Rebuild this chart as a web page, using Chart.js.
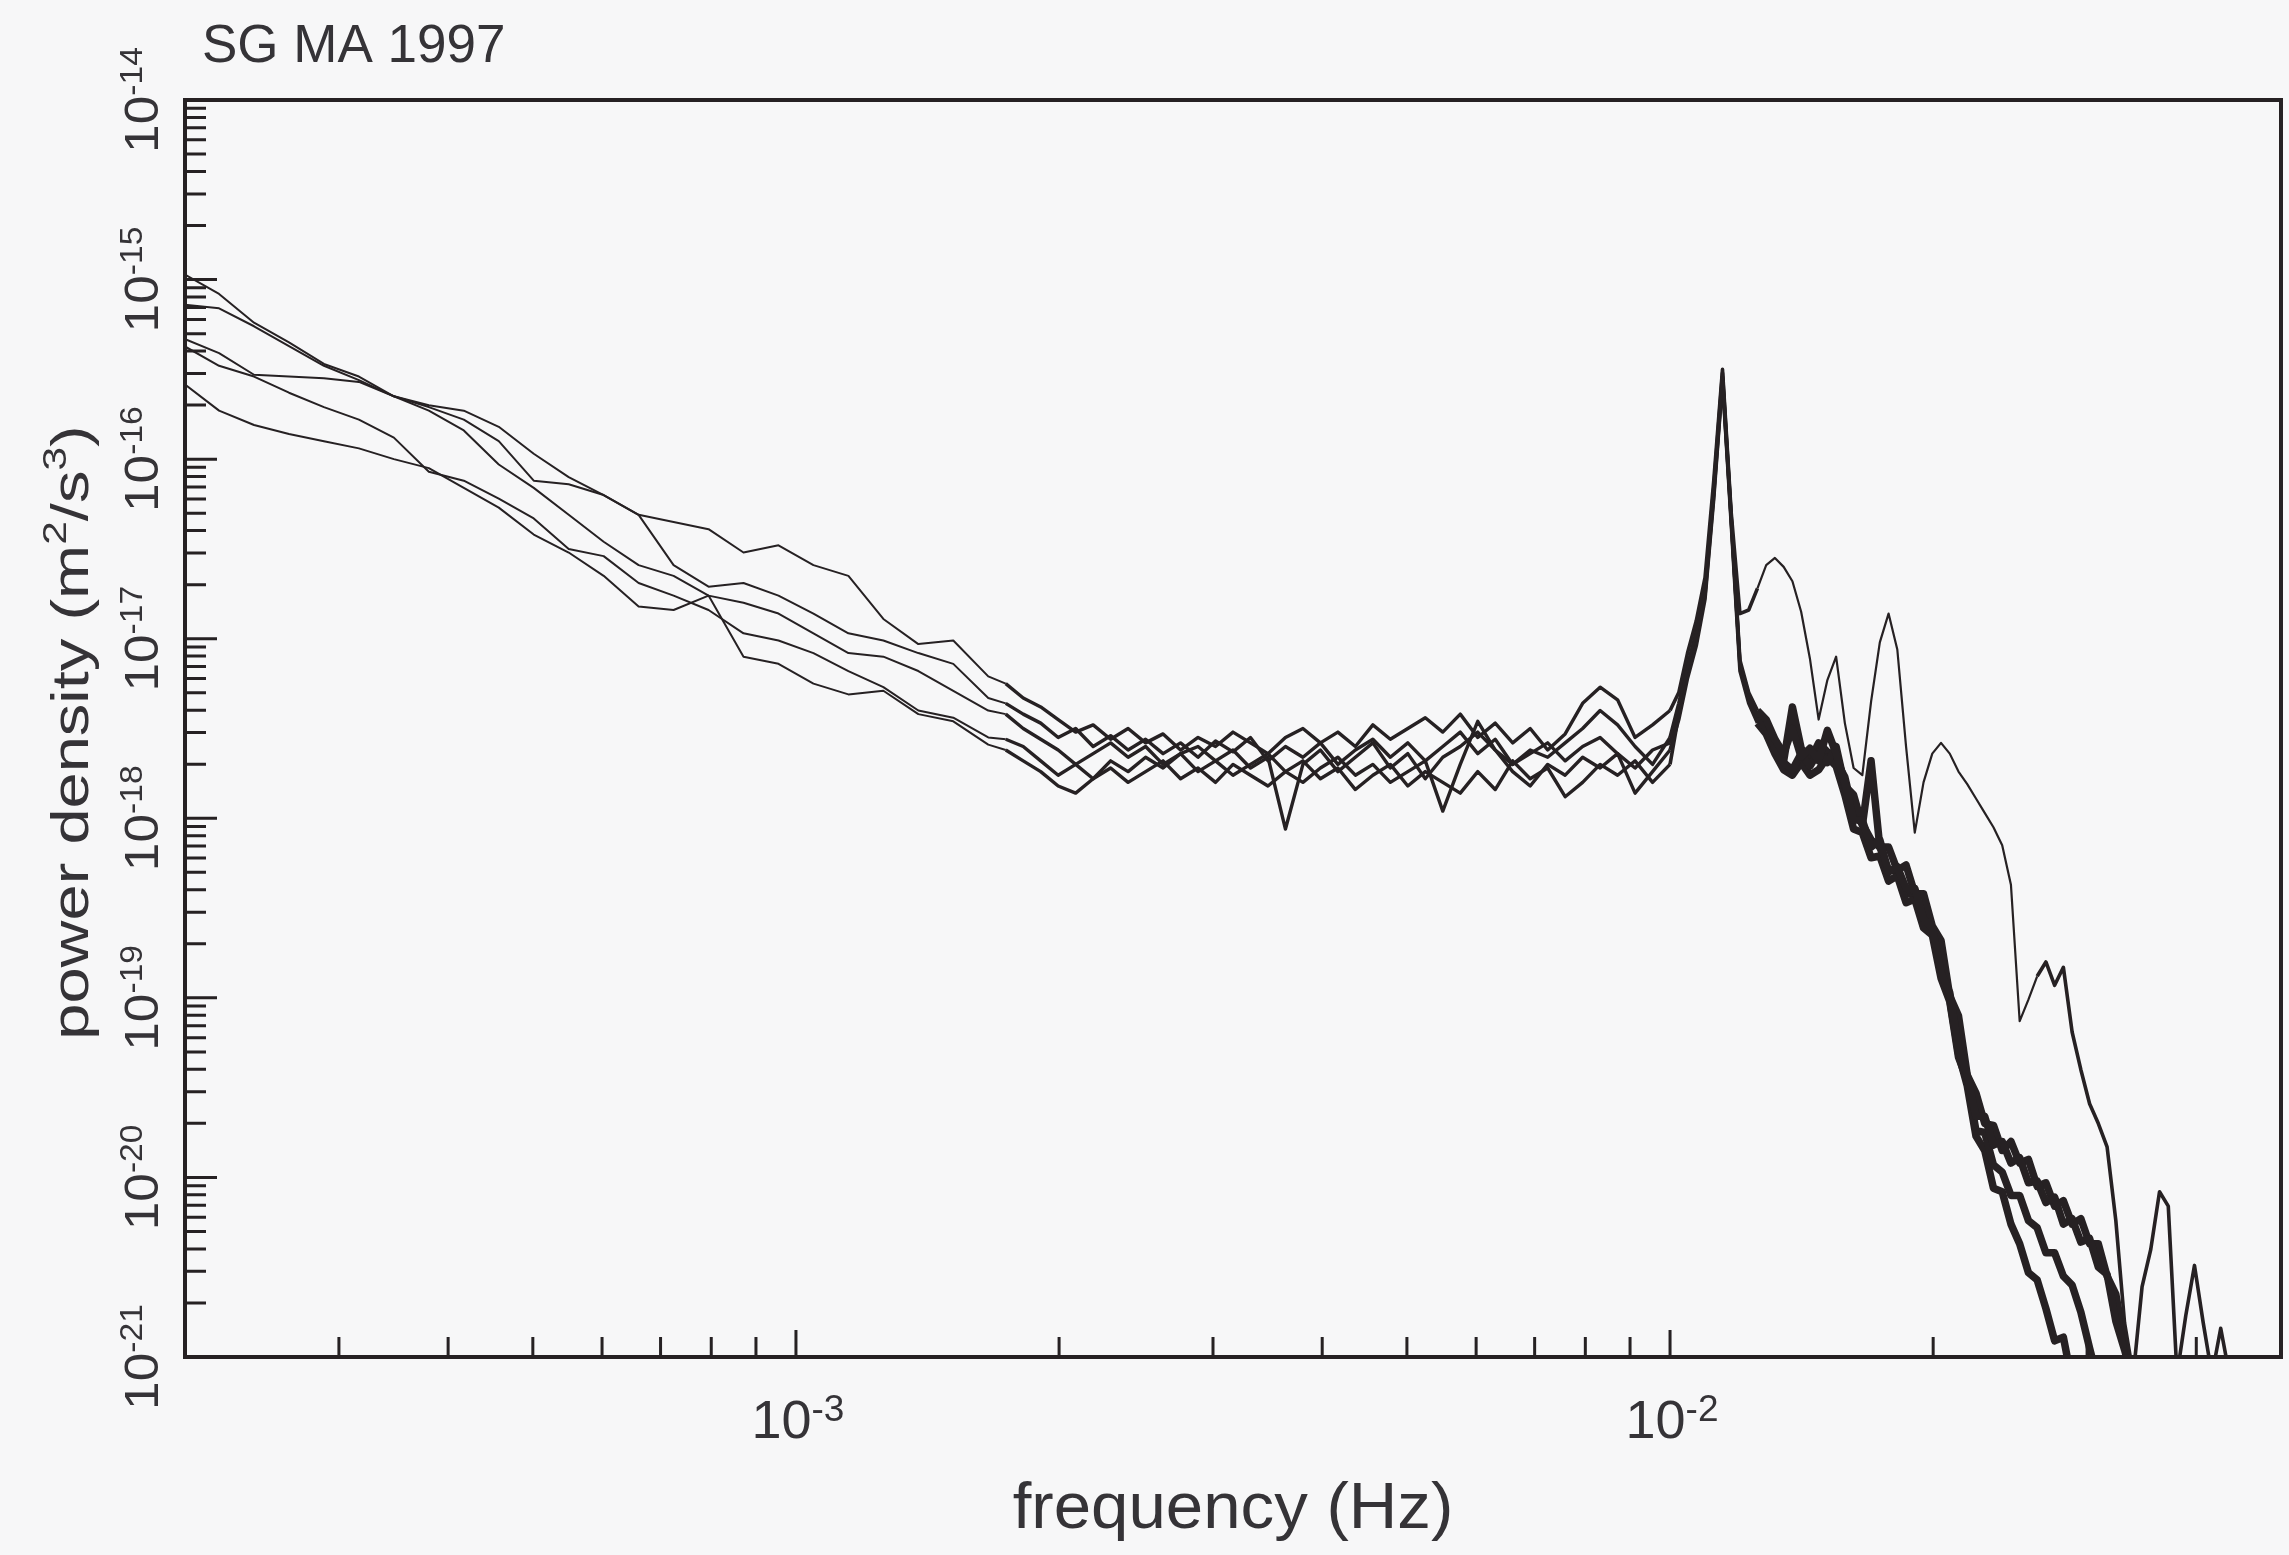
<!DOCTYPE html>
<html>
<head>
<meta charset="utf-8">
<title>SG MA 1997</title>
<script src="https://cdn.jsdelivr.net/npm/chart.js@4.4.0/dist/chart.umd.min.js"></script>
<style>
  html, body { margin: 0; padding: 0; background: #f7f7f8; }
</style>
</head>
<body>
<canvas id="psd" width="2289" height="1555"></canvas>
<script>
// frequency grid, log10(Hz)
const logFreq = [
  -3.70, -3.66, -3.62, -3.58, -3.54, -3.50, -3.46, -3.42, -3.38, -3.34, -3.30, -3.26,
  -3.22, -3.18, -3.14, -3.10, -3.06, -3.02, -2.98, -2.94, -2.90, -2.86, -2.82, -2.78,
  -2.76, -2.74, -2.72, -2.70, -2.68, -2.66, -2.64, -2.62, -2.60, -2.58, -2.56, -2.54, -2.52,
  -2.50, -2.48, -2.46, -2.44, -2.42, -2.40, -2.38, -2.36, -2.34, -2.32, -2.30, -2.28, -2.26,
  -2.24, -2.22, -2.20, -2.18, -2.16, -2.14, -2.12, -2.10, -2.08, -2.06, -2.04, -2.02, -2.00,
  -1.99, -1.98, -1.97, -1.96, -1.95, -1.94, -1.93, -1.92, -1.91, -1.90,
  -1.89, -1.88, -1.87, -1.86, -1.85, -1.84, -1.83, -1.82, -1.81, -1.80,
  -1.79, -1.78, -1.77, -1.76, -1.75, -1.74, -1.73, -1.72, -1.71, -1.70,
  -1.69, -1.68, -1.67, -1.66, -1.65, -1.64, -1.63, -1.62, -1.61, -1.60,
  -1.59, -1.58, -1.57, -1.56, -1.55, -1.54, -1.53, -1.52, -1.51, -1.50,
  -1.49, -1.48, -1.47, -1.46, -1.45, -1.44, -1.43, -1.42, -1.41, -1.40,
  -1.39, -1.38, -1.37, -1.36, -1.35, -1.34, -1.33, -1.32, -1.31, -1.30,
]

// power density, log10(m2/s3), one array per record
const logPowerS1 = [
  -14.97, -15.08, -15.24, -15.35, -15.47, -15.54, -15.65, -15.70, -15.73, -15.82, -15.97, -16.10,
  -16.20, -16.31, -16.35, -16.39, -16.52, -16.48, -16.59, -16.65, -16.89, -17.03, -17.01, -17.21,
  -17.25, -17.33, -17.38, -17.45, -17.52, -17.48, -17.56, -17.50, -17.58, -17.53, -17.62, -17.55, -17.60,
  -17.52, -17.58, -17.64, -17.55, -17.50, -17.58, -17.52, -17.60, -17.48, -17.56, -17.50, -17.44, -17.52,
  -17.42, -17.55, -17.47, -17.58, -17.50, -17.62, -17.53, -17.36, -17.27, -17.34, -17.55, -17.48, -17.40,
  -17.30, -17.08, -16.90, -16.66, -16.12, -15.50, -16.30, -16.86, -16.84, -16.72,
  -16.59, -16.55, -16.60, -16.68, -16.85, -17.11, -17.45, -17.23, -17.10, -17.47,
  -17.72, -17.76, -17.35, -17.02, -16.86, -17.06, -17.60, -18.08, -17.80, -17.64,
  -17.58, -17.64, -17.74, -17.81, -17.89, -17.97, -18.05, -18.15, -18.37, -19.13,
  -19.01, -18.88, -18.80, -18.93, -18.83, -19.19, -19.40, -19.59, -19.70, -19.83,
  -20.24, -20.81, -21.10, -20.61, -20.40, -20.08, -20.16, -21.10, -20.77, -20.49,
  -20.81, -21.10, -20.84, -21.10, -21.02, -21.10,
]
const logPowerS2 = [
  -15.14, -15.16, -15.26, -15.37, -15.48, -15.56, -15.65, -15.71, -15.78, -15.90, -16.12, -16.14,
  -16.20, -16.31, -16.59, -16.71, -16.69, -16.76, -16.86, -16.97, -17.01, -17.08, -17.14, -17.33,
  -17.36, -17.42, -17.47, -17.55, -17.50, -17.60, -17.54, -17.62, -17.56, -17.64, -17.58, -17.66, -17.57,
  -17.63, -17.55, -17.68, -17.60, -17.66, -17.58, -17.70, -17.62, -17.56, -17.66, -17.58, -17.68, -17.60,
  -17.52, -17.64, -17.56, -17.70, -17.62, -17.66, -17.58, -17.50, -17.40, -17.48, -17.60, -17.70, -17.55,
  -17.36, -17.15, -16.96, -16.72, -16.16, -15.52, -16.32, -17.12, -17.30, -17.40,
  -17.45, -17.56, -17.64, -17.50, -17.66, -17.61, -17.68, -17.51, -17.64, -17.80,
  -18.01, -18.01, -18.16, -18.12, -18.30, -18.27, -18.39, -18.39, -18.56, -18.61,
  -18.86, -18.97, -19.28, -19.43, -19.66, -19.66, -19.82, -19.80, -19.92, -19.89,
  -20.03, -20.02, -20.14, -20.11, -20.26, -20.23, -20.36, -20.34, -20.50, -20.54,
  -20.80, -20.96, -21.14,
]
const logPowerS3 = [
  -15.33, -15.41, -15.53, -15.54, -15.55, -15.57, -15.65, -15.73, -15.84, -16.03, -16.16, -16.31,
  -16.46, -16.59, -16.65, -16.76, -16.80, -16.86, -16.97, -17.08, -17.10, -17.18, -17.29, -17.40,
  -17.42, -17.50, -17.56, -17.62, -17.70, -17.64, -17.58, -17.66, -17.60, -17.70, -17.64, -17.60, -17.68,
  -17.62, -17.72, -17.66, -18.06, -17.70, -17.62, -17.74, -17.66, -17.58, -17.72, -17.64, -17.78, -17.66,
  -17.60, -17.52, -17.62, -17.70, -17.64, -17.58, -17.68, -17.60, -17.55, -17.64, -17.72, -17.62, -17.58,
  -17.40, -17.20, -17.00, -16.76, -16.20, -15.55, -16.34, -17.15, -17.33, -17.44,
  -17.50, -17.61, -17.69, -17.73, -17.64, -17.71, -17.63, -17.69, -17.60, -17.82,
  -17.87, -18.04, -17.68, -18.16, -18.16, -18.29, -18.26, -18.42, -18.42, -18.60,
  -18.68, -18.99, -19.10, -19.43, -19.53, -19.70, -19.71, -19.85, -19.80, -19.92,
  -19.90, -20.05, -20.03, -20.16, -20.13, -20.26, -20.23, -20.37, -20.37, -20.55,
  -20.65, -20.93, -21.14,
]
const logPowerS4 = [
  -15.37, -15.48, -15.54, -15.63, -15.71, -15.78, -15.88, -16.07, -16.12, -16.22, -16.33, -16.50,
  -16.54, -16.69, -16.76, -16.84, -16.97, -17.01, -17.08, -17.18, -17.27, -17.40, -17.44, -17.55,
  -17.56, -17.60, -17.68, -17.76, -17.70, -17.78, -17.68, -17.74, -17.66, -17.72, -17.64, -17.74, -17.68,
  -17.76, -17.70, -17.64, -17.74, -17.80, -17.72, -17.66, -17.76, -17.70, -17.80, -17.74, -17.68, -17.96,
  -17.70, -17.46, -17.62, -17.74, -17.82, -17.70, -17.76, -17.66, -17.72, -17.64, -17.86, -17.74, -17.62,
  -17.45, -17.22, -17.04, -16.78, -16.22, -15.56, -16.36, -17.18, -17.36, -17.47,
  -17.53, -17.64, -17.73, -17.76, -17.69, -17.76, -17.73, -17.66, -17.71, -17.87,
  -18.06, -18.08, -18.22, -18.21, -18.35, -18.32, -18.47, -18.45, -18.61, -18.65,
  -18.89, -19.02, -19.33, -19.46, -19.74, -19.75, -19.93, -19.97, -20.10, -20.10,
  -20.24, -20.28, -20.42, -20.42, -20.55, -20.60, -20.75, -20.95, -21.14,
]
const logPowerS5 = [
  -15.58, -15.73, -15.81, -15.86, -15.90, -15.94, -16.00, -16.05, -16.16, -16.27, -16.42, -16.52,
  -16.65, -16.82, -16.84, -16.76, -17.10, -17.14, -17.25, -17.31, -17.29, -17.42, -17.46, -17.59,
  -17.62, -17.68, -17.74, -17.82, -17.86, -17.78, -17.72, -17.80, -17.74, -17.68, -17.78, -17.72, -17.80,
  -17.70, -17.76, -17.82, -17.74, -17.68, -17.78, -17.72, -17.84, -17.76, -17.70, -17.82, -17.74, -17.80,
  -17.86, -17.74, -17.84, -17.68, -17.78, -17.72, -17.88, -17.80, -17.70, -17.76, -17.68, -17.80, -17.70,
  -17.42, -17.18, -16.98, -16.74, -16.18, -15.54, -16.33, -17.14, -17.31, -17.42,
  -17.48, -17.58, -17.68, -17.38, -17.61, -17.68, -17.58, -17.63, -17.68, -17.77,
  -17.98, -18.03, -18.12, -18.16, -18.29, -18.29, -18.42, -18.42, -18.60, -18.61,
  -18.87, -19.01, -19.31, -19.49, -19.77, -19.85, -20.06, -20.08, -20.26, -20.37,
  -20.53, -20.57, -20.73, -20.91, -20.89, -21.14,
]

// axis ticks
const yDecades = [-21, -20, -19, -18, -17, -16, -15, -14]
const yMinor = [2, 3, 4, 5, 6, 7, 8, 9]
const xMajor = [-3, -2]
const xMinor = [3e-4, 4e-4, 5e-4, 6e-4, 7e-4, 8e-4, 9e-4,
  2e-3, 3e-3, 4e-3, 5e-3, 6e-3, 7e-3, 8e-3, 9e-3, 2e-2, 3e-2, 4e-2]

const ink = '#262123'
const textInk = '#353337'
const FONT = '"Liberation Sans", Arial, sans-serif'

// draw a run of text pieces ([text, size, rise]) centred on x,y
function drawParts(c, parts, x, y, angle, stretch) {
  c.save()
  c.translate(x, y)
  c.rotate(angle)
  c.scale(stretch, 1)
  let total = 0
  parts.forEach(p => {
    c.font = p[1] + 'px ' + FONT
    total += c.measureText(p[0]).width
  })
  let cx = -total / 2
  parts.forEach(p => {
    c.font = p[1] + 'px ' + FONT
    c.fillText(p[0], cx, -p[2])
    cx += c.measureText(p[0]).width
  })
  c.restore()
}

const frame = {
  id: 'frame',
  afterDraw(chart) {
    const c = chart.ctx
    const a = chart.chartArea
    const xs = chart.scales.x
    const ys = chart.scales.y
    c.save()
    c.strokeStyle = ink
    c.lineWidth = 4
    c.strokeRect(a.left, a.top, a.right - a.left, a.bottom - a.top)

    // ticks point inwards
    c.lineWidth = 3
    c.beginPath()
    yDecades.forEach(d => {
      const p = ys.getPixelForValue(Math.pow(10, d))
      c.moveTo(a.left, p)
      c.lineTo(a.left + 32, p)
      if (d < -14) {
        yMinor.forEach(m => {
          const q = ys.getPixelForValue(m * Math.pow(10, d))
          c.moveTo(a.left, q)
          c.lineTo(a.left + 21, q)
        })
      }
    })
    xMajor.forEach(d => {
      const p = xs.getPixelForValue(Math.pow(10, d))
      c.moveTo(p, a.bottom)
      c.lineTo(p, a.bottom - 27)
    })
    xMinor.forEach(v => {
      const p = xs.getPixelForValue(v)
      c.moveTo(p, a.bottom)
      c.lineTo(p, a.bottom - 20)
    })
    c.stroke()

    c.fillStyle = textInk
    c.textBaseline = 'alphabetic'
    yDecades.forEach(d => {
      const p = ys.getPixelForValue(Math.pow(10, d))
      drawParts(c, [['10', 49, 0], [String(d), 32, 16]], 158, p, -Math.PI / 2, 1.05)
    })
    xMajor.forEach(d => {
      const p = xs.getPixelForValue(Math.pow(10, d))
      drawParts(c, [['10', 54, 0], [String(d), 37, 17]], p + 2, 1438, 0, 1)
    })

    drawParts(c, [['frequency (Hz)', 64, 0]], (a.left + a.right) / 2, 1528, 0, 1.05)
    drawParts(c, [['power density (m', 52, 0], ['2', 34, 22], ['/s', 52, 0], ['3', 34, 22], [')', 52, 0]],
      88, (a.top + a.bottom) / 2 + 4, -Math.PI / 2, 1.25)

    c.font = '53px ' + FONT
    c.textAlign = 'left'
    c.fillText('SG MA 1997', 202, 62)
    c.restore()
  },
}

// the noisy parts of the spectra print as a thicker trace
function traceWidth(odd) {
  return s => {
    const f = s.p0.parsed.x
    if (f < 1.7e-3) return 2
    if (f < 9.8e-3) return 3.4
    if (f < 1.25e-2) return 3.6
    if (odd) return f < 2.6e-2 ? 2.2 : 3.6
    return 7.5
  }
}

const records = [logPowerS1, logPowerS2, logPowerS3, logPowerS4, logPowerS5]

const data = {
  datasets: records.map((rec, k) => ({
    data: rec.map((v, i) => ({ x: Math.pow(10, logFreq[i]), y: Math.pow(10, v) })),
    borderColor: ink,
    borderWidth: 2.2,
    borderJoinStyle: 'round',
    segment: { borderWidth: traceWidth(k === 0) },
    pointRadius: 0,
    tension: 0,
    fill: false,
    clip: 0,
  })),
}

const config = {
  type: 'line',
  data: data,
  options: {
    responsive: false,
    animation: false,
    layout: { padding: { left: 185, top: 100, right: 8, bottom: 198 } },
    plugins: {
      legend: { display: false },
      tooltip: { enabled: false },
    },
    scales: {
      x: { type: 'logarithmic', min: 2e-4, max: 0.05, display: false },
      y: { type: 'logarithmic', min: 1e-21, max: 1e-14, display: false },
    },
  },
  plugins: [frame],
}

const psdChart = new Chart(document.getElementById('psd').getContext('2d'), config)
</script>
</body>
</html>
